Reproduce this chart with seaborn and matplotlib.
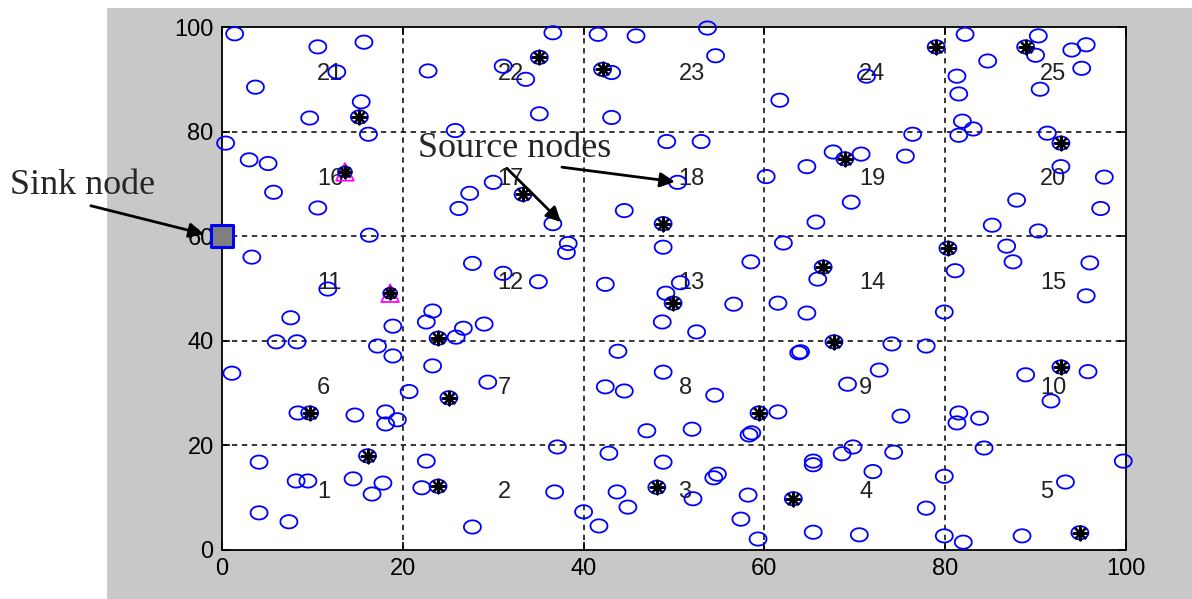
import matplotlib
matplotlib.use("Agg")
import matplotlib.pyplot as plt
from matplotlib.path import Path
from matplotlib.patches import Rectangle
import seaborn as sns
import numpy as np
import pandas as pd

# sensor nodes (blue circles)
node_x = [1.4, 10.6, 15.7, 3.7, 15.4, 9.7, 16.2, 0.4, 3.0, 5.1, 5.7, 10.6, 16.3, 3.3, 11.7, 12.7,
          36.6, 22.8, 31.1, 33.6, 35.1, 25.8, 41.6, 45.8, 43.1, 53.7, 54.6, 43.1, 61.7, 49.2, 53.0,
          60.2, 50.4, 30.0, 27.4, 26.2, 36.6, 44.5, 38.3, 38.1, 27.7, 31.1, 35.0, 42.4, 48.8, 58.5,
          62.1, 50.7, 49.1,
          82.2, 90.3, 90.0, 94.0, 95.6, 95.1, 84.7, 81.3, 81.5, 90.5, 71.3, 81.9, 83.1, 81.5, 91.3,
          76.4, 67.6, 70.7, 75.6, 64.7, 92.8, 97.6, 69.6, 87.9, 97.2, 65.7, 85.2, 90.3, 86.8, 87.5,
          96.0, 65.9, 81.1, 95.6,
          7.6, 6.0, 8.3, 17.2, 18.9, 18.9, 1.1, 8.4, 14.7, 18.1, 18.1, 19.4, 4.1, 8.2, 9.5, 14.5,
          17.8, 16.6, 4.1, 7.4,
          23.3, 22.6, 25.9, 26.7, 29.0, 23.3, 20.7, 29.4, 22.6, 22.1, 27.7, 37.1, 36.8, 40.0, 41.7,
          42.8, 43.7, 44.9, 48.8, 52.1, 54.8, 54.4, 58.2, 57.4, 59.3, 43.8, 48.8, 42.4, 44.5, 54.5,
          47.0, 52.0, 61.5, 58.6, 58.3, 63.8, 64.0, 48.7, 52.5, 56.6, 61.5,
          79.9, 64.7, 74.1, 77.9, 72.7, 69.2, 75.1, 81.5, 81.3, 83.8, 88.9, 95.8, 91.7, 84.3, 69.8,
          68.6, 74.3, 65.4, 65.4, 72.0, 79.9, 99.7, 93.3, 77.9, 65.4, 70.5, 79.9, 82.0, 88.5]
node_y = [98.7, 96.2, 97.1, 88.5, 85.7, 82.6, 79.5, 77.8, 74.6, 73.9, 68.4, 65.4, 60.2, 56.0, 49.9, 91.4,
          98.9, 91.6, 92.5, 90.0, 83.4, 80.2, 98.6, 98.3, 91.3, 99.8, 94.5, 82.7, 86.0, 78.1, 78.1,
          71.4, 70.3, 70.3, 68.2, 65.3, 62.4, 64.9, 58.6, 56.9, 54.8, 52.9, 51.3, 50.8, 57.9, 55.1,
          58.7, 51.1, 49.1,
          98.6, 98.3, 94.6, 95.6, 96.6, 92.1, 93.5, 90.6, 87.2, 88.1, 90.6, 82.0, 80.5, 79.3, 79.7,
          79.5, 76.1, 75.7, 75.3, 73.3, 73.3, 71.3, 66.5, 66.9, 65.3, 62.7, 62.1, 61.0, 58.1, 55.1,
          54.9, 51.8, 53.4, 48.6,
          44.4, 39.8, 39.8, 39.0, 37.1, 42.8, 33.8, 26.2, 25.8, 26.4, 24.1, 24.9, 16.8, 13.2, 13.2, 13.6,
          12.8, 10.7, 7.1, 5.4,
          45.7, 43.6, 40.7, 42.4, 43.2, 35.2, 30.3, 32.1, 17.0, 11.9, 4.4, 19.7, 11.1, 7.3, 4.6,
          18.5, 11.1, 8.2, 16.8, 9.8, 14.5, 13.8, 10.5, 5.9, 2.1, 38.0, 34.0, 31.2, 30.4, 29.6,
          22.8, 23.1, 26.4, 22.4, 22.0, 37.7, 37.9, 43.6, 41.7, 47.0, 47.2,
          45.5, 45.3, 39.4, 39.0, 34.4, 31.7, 25.6, 26.2, 24.3, 25.2, 33.5, 34.1, 28.5, 19.5, 19.7,
          18.4, 18.7, 17.0, 16.3, 15.0, 14.1, 17.0, 13.0, 8.0, 3.4, 2.9, 2.7, 1.5, 2.7]

# cluster heads (circle + asterisk)
head_x = [15.2, 35.1, 42.1, 79.0, 88.9, 92.8, 68.9, 33.3, 48.8, 80.3, 66.5, 49.9,
          23.9, 67.7, 25.1, 9.7, 59.4, 92.8, 16.1, 23.9, 48.1, 63.2, 94.9]
head_y = [82.8, 94.2, 91.9, 96.2, 96.2, 77.8, 74.8, 68.0, 62.4, 57.7, 54.1, 47.2,
          40.5, 39.8, 29.1, 26.2, 26.2, 35.0, 18.0, 12.2, 12.0, 9.8, 3.3]

# source nodes (triangle + circle + asterisk)
src_x = [13.6, 18.6]
src_y = [72.3, 49.1]

# sink node
sink_x = [0]
sink_y = [60]

# zone numbers
zone_ids = list(range(1, 26))

sns.set_style("ticks")
plt.rcParams['font.family'] = ['Liberation Sans', 'DejaVu Sans']

fig = plt.figure(figsize=(11.92, 5.99), dpi=100, facecolor='white')
fig.patches.append(Rectangle((107 / 1192, 0), 1 - 107 / 1192, 1 - 8 / 599,
                             transform=fig.transFigure, facecolor='#c8c8c8',
                             edgecolor='none', zorder=-10))
ax = fig.add_axes([222 / 1192, 1 - 550 / 599, 904 / 1192, 523 / 599])
ax.set_facecolor('white')

# squashed circle, the original image is stretched sideways
t = np.linspace(0, 2 * np.pi, 60)
ellipse = Path(np.column_stack([np.cos(t), 0.78 * np.sin(t)]))

nodes = pd.DataFrame({"x": node_x, "y": node_y})
heads = pd.DataFrame({"x": head_x, "y": head_y})
srcs = pd.DataFrame({"x": src_x, "y": src_y})

# grid first
for v in [20, 40, 60, 80]:
    ax.axvline(v, color='black', lw=1.1, ls=(0, (3.5, 3)), zorder=1)
    ax.axhline(v, color='black', lw=1.1, ls=(0, (3.5, 3)), zorder=1)

sns.scatterplot(data=nodes, x="x", y="y", marker=ellipse, s=150, fc='none', ec='blue',
                linewidth=1.3, ax=ax, clip_on=False, zorder=3)
sns.scatterplot(data=heads, x="x", y="y", marker=ellipse, s=150, fc='none', ec='blue',
                linewidth=1.3, ax=ax, clip_on=False, zorder=3)
sns.scatterplot(data=heads, x="x", y="y", marker=(8, 2, 0), s=95, color='black',
                linewidth=1.7, ax=ax, zorder=4)
sns.scatterplot(data=srcs, x="x", y="y", marker='^', s=160, fc='none', ec='magenta',
                linewidth=1.3, ax=ax, zorder=3)
sns.scatterplot(data=srcs, x="x", y="y", marker=ellipse, s=100, fc='none', ec='blue',
                linewidth=1.3, ax=ax, zorder=3)
sns.scatterplot(data=srcs, x="x", y="y", marker=(8, 2, 0), s=70, color='black',
                linewidth=1.7, ax=ax, zorder=4)
sns.scatterplot(x=sink_x, y=sink_y, marker='s', s=230, color='#808080', ec='blue',
                linewidth=2.2, ax=ax, clip_on=False, zorder=5)

# zone numbers
for i, z in enumerate(zone_ids):
    col = i % 5
    row = i // 5
    ax.text(10.5 + 20 * col, 11 + 20 * row, str(z), fontsize=17, color='#222222',
            ha='left', va='center', zorder=2)

ax.set_xlim(0, 100)
ax.set_ylim(0, 100)
ax.set_xticks([0, 20, 40, 60, 80, 100])
ax.set_yticks([0, 20, 40, 60, 80, 100])
ax.set_xlabel("")
ax.set_ylabel("")
ax.tick_params(direction='in', top=True, right=True, length=6, width=1.2,
               labelsize=17, colors='black', pad=6)
for s in ax.spines.values():
    s.set_linewidth(1.3)
    s.set_color('black')
    s.set_visible(True)

# annotations
serif = ['Liberation Serif', 'DejaVu Serif']
ax.annotate("Sink node", xy=(-2.0, 60.4), xytext=(-23.5, 69.6), textcoords='data',
            fontsize=26, family=serif, ha='left', va='center', annotation_clip=False,
            arrowprops=dict(arrowstyle='-|>', color='black', lw=2, mutation_scale=22,
                            shrinkA=0, shrinkB=0, relpos=(0.47, 0)))
ax.text(21.7, 76.8, "Source nodes", fontsize=26, family=serif, ha='left', va='center', zorder=6)
ax.annotate("", xy=(37.5, 62.7), xytext=(31.5, 73.0),
            arrowprops=dict(arrowstyle='-|>', color='black', lw=2, mutation_scale=22,
                            shrinkA=0, shrinkB=0))
ax.annotate("", xy=(50.1, 70.4), xytext=(37.6, 73.2),
            arrowprops=dict(arrowstyle='-|>', color='black', lw=2, mutation_scale=22,
                            shrinkA=0, shrinkB=0))

fig.savefig("out.png", dpi=100, facecolor=fig.get_facecolor())
